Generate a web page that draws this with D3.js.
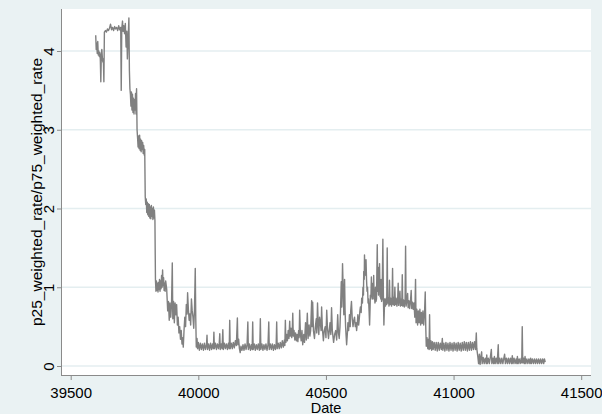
<!DOCTYPE html>
<html>
<head>
<meta charset="utf-8">
<script src="https://cdn.jsdelivr.net/npm/d3@7"></script>
<style>
  html, body { margin: 0; padding: 0; background: #eaf2f3; }
  svg { display: block; font-family: Arial, "Liberation Sans", sans-serif; }
</style>
</head>
<body>
<div id="chart"></div>
<script>
// tick values
const xTicks = [39500, 40000, 40500, 41000, 41500];
const yTicks = [0, 1, 2, 3, 4];

// [date, p25/p75 ratio], one array per regime
const obsHigh = [
  [39598,4.20],[39600,4.02],[39602,4.10],[39604,3.97],[39606,4.12],[39608,3.95],[39610,4.00],[39612,3.93],
  [39614,3.98],[39616,3.90],[39618,3.61],[39620,3.95],[39622,4.02],[39624,3.92],[39626,3.86],[39628,3.90],
  [39630,3.61],[39632,4.24],[39636,4.26],[39640,4.24],[39644,4.28],[39648,4.26],[39652,4.29],[39656,4.34],
  [39660,4.27],[39664,4.30],[39668,4.26],[39672,4.31],[39676,4.28],[39680,4.30],[39684,4.26],[39688,4.32],
  [39692,4.27],[39696,4.30],[39698,3.50],[39700,4.28],[39703,4.38],[39705,4.25],[39708,4.32],[39711,4.22],
  [39714,4.35],[39717,4.05],[39720,4.25],[39722,3.90],[39725,4.15],[39728,4.42],[39730,3.75],[39732,3.52],
  [39734,3.45],[39736,3.30],[39738,3.48],[39740,3.25],[39742,3.45],[39744,3.22],[39746,3.40],[39748,3.20],
  [39750,3.38],[39752,3.25],[39754,3.46],[39756,3.20],[39758,3.52],[39760,3.00],[39762,2.90],[39764,2.78],
  [39766,2.92],[39768,2.76],[39770,2.93],[39772,2.74],[39774,2.88],[39776,2.72],[39778,2.86],[39780,2.75],
  [39782,2.84],[39784,2.70],[39786,2.80],[39788,2.68],[39790,2.75],[39792,2.15],[39794,2.05],[39796,2.12],
  [39798,1.95],[39800,2.08],[39802,1.92],[39804,2.06],[39806,1.90],[39808,2.05],[39810,1.88],[39812,2.02],
  [39814,1.87],[39816,2.04],[39818,1.90],[39820,2.00],[39822,1.86],[39824,2.02],[39826,1.88],[39828,1.98],
  [39830,1.85]
];

const obsFall = [
  [39832,1.10],[39834,0.95],[39836,1.08],[39838,0.96],[39840,1.05],[39842,0.94],[39844,1.06],[39846,0.97],
  [39848,1.10],[39850,0.95],[39852,1.08],[39854,0.98],[39856,1.15],[39858,1.00],[39860,1.22],[39862,1.02],
  [39864,1.12],[39866,0.96],[39868,1.05],[39870,0.95],[39872,1.08],[39876,0.98],[39880,0.70],[39883,0.82],
  [39886,0.58],[39889,0.80],[39892,0.62],[39895,0.78],[39898,1.31],[39900,0.60],[39903,0.82],[39906,0.55],
  [39909,0.80],[39912,0.65],[39915,0.78],[39918,0.52],[39921,0.62],[39924,0.42],[39927,0.50],[39930,0.34],
  [39933,0.45],[39936,0.28],[39939,0.36],[39941,0.24],[39944,0.45],[39947,0.62],[39950,0.50],[39953,0.78],
  [39956,0.66],[39958,0.93],[39961,0.72],[39964,0.58],[39967,0.66],[39970,0.52],[39973,0.85],[39976,0.70],
  [39979,0.62],[39982,0.48],[39985,0.72],[39988,1.24],[39990,0.60],[39992,0.24]
];

const obsFlat = [
  [39995,0.35],[39997,0.22],[40000,0.30],[40004,0.20],[40008,0.29],[40012,0.21],[40016,0.28],[40020,0.20],
  [40024,0.29],[40028,0.21],[40032,0.27],[40034,0.39],[40036,0.21],[40040,0.28],[40044,0.20],[40048,0.29],
  [40052,0.21],[40056,0.28],[40059,0.22],[40061,0.43],[40063,0.22],[40067,0.29],[40071,0.21],[40075,0.28],
  [40079,0.22],[40082,0.29],[40084,0.41],[40086,0.21],[40090,0.28],[40093,0.22],[40096,0.46],[40098,0.21],
  [40102,0.29],[40106,0.22],[40110,0.28],[40114,0.21],[40118,0.29],[40121,0.22],[40123,0.58],[40125,0.22],
  [40129,0.29],[40133,0.22],[40137,0.30],[40141,0.23],[40145,0.32],[40149,0.26],[40153,0.61],[40155,0.27],
  [40158,0.34],[40161,0.22],[40164,0.17],[40167,0.25],[40171,0.20],[40175,0.27],[40179,0.20],[40183,0.28],
  [40187,0.21],[40191,0.27],[40194,0.56],[40196,0.21],[40200,0.28],[40204,0.20],[40208,0.27],[40211,0.21],
  [40213,0.56],[40215,0.21],[40219,0.28],[40223,0.20],[40227,0.27],[40231,0.21],[40235,0.28],[40239,0.20],
  [40241,0.27],[40243,0.60],[40245,0.21],[40249,0.28],[40253,0.20],[40257,0.27],[40261,0.21],[40265,0.28],
  [40269,0.20],[40273,0.27],[40276,0.56],[40278,0.21],[40282,0.28],[40286,0.21],[40290,0.28],[40294,0.20],
  [40298,0.27],[40302,0.21],[40305,0.28],[40307,0.56],[40309,0.22],[40313,0.29],[40317,0.22],[40321,0.30],
  [40325,0.23],[40329,0.32],[40333,0.24],[40337,0.33],[40339,0.26],[40341,0.58],[40343,0.30],[40346,0.40],
  [40349,0.32],[40352,0.45],[40355,0.35],[40358,0.57],[40360,0.38],[40363,0.48],[40366,0.36],[40368,0.44],
  [40370,0.67],[40372,0.38],[40375,0.45],[40378,0.33],[40381,0.42],[40384,0.32],[40387,0.40],[40390,0.31],
  [40393,0.45],[40395,0.36],[40397,0.71],[40400,0.40],[40403,0.32]
];

const obsVolatile = [
  [40406,0.45],[40409,0.27],[40413,0.40],[40416,0.30],[40420,0.55],[40423,0.33],[40427,0.67],[40430,0.35],
  [40434,0.52],[40437,0.38],[40440,0.45],[40444,0.83],[40446,0.50],[40448,0.81],[40451,0.45],[40455,0.35],
  [40458,0.48],[40462,0.60],[40464,0.42],[40467,0.80],[40470,0.50],[40472,0.40],[40475,0.62],[40478,0.55],
  [40481,0.45],[40483,0.75],[40486,0.48],[40490,0.32],[40493,0.44],[40497,0.50],[40500,0.36],[40503,0.71],
  [40506,0.48],[40510,0.35],[40513,0.45],[40516,0.55],[40519,0.40],[40522,0.74],[40525,0.45],[40530,0.30],
  [40534,0.40],[40538,0.45],[40542,0.33],[40546,0.65],[40549,0.42],[40552,0.35],[40555,0.50],[40557,0.70],
  [40560,1.07],[40562,0.75],[40565,1.30],[40568,0.90],[40570,0.65],[40573,1.10],[40575,0.70],[40577,0.50],
  [40579,0.38],[40581,0.27],[40584,0.42],[40586,0.55],[40589,0.45],[40592,0.65],[40595,0.50],[40597,0.70],
  [40600,0.82],[40603,0.60],[40606,0.50],[40609,0.58],[40612,0.62],[40615,0.50],[40618,0.55],[40620,0.45],
  [40623,0.55],[40625,0.65],[40628,0.52],[40630,0.58],[40633,0.70],[40635,0.75],[40638,0.68],[40640,0.86],
  [40643,0.80],[40645,1.00],[40647,0.90],[40648,1.20],[40650,1.10],[40651,1.41],[40653,1.18],[40654,1.25],
  [40656,1.15],[40657,1.35],[40659,1.10],[40661,0.95],[40663,1.00],[40665,0.80],[40667,0.85],[40669,0.70],
  [40671,0.52],[40673,0.75],[40674,0.90],[40676,0.85],[40678,1.13],[40680,0.88],[40681,0.95],[40683,0.85],
  [40684,1.05],[40686,0.90],[40687,1.15],[40689,0.85],[40690,0.90],[40692,0.80],[40694,1.00],[40696,0.82],
  [40698,0.85],[40701,1.54],[40703,0.95],[40704,1.10],[40706,0.90],[40707,1.25],[40709,1.00],[40710,1.30],
  [40712,0.88],[40713,0.95],[40715,0.85],[40716,1.10],[40718,0.82],[40720,0.85],[40723,1.61],[40725,0.90],
  [40727,0.52],[40730,0.85]
];

const obsPlateau = [
  [40733,0.76],[40736,0.86],[40738,0.78],[40740,1.50],[40742,0.80],[40745,0.86],[40747,0.76],[40749,1.09],
  [40751,0.78],[40754,0.86],[40757,0.76],[40759,0.85],[40761,1.24],[40763,0.78],[40766,0.87],[40768,0.77],
  [40770,1.00],[40772,0.78],[40775,0.86],[40778,0.76],[40781,0.85],[40783,1.05],[40785,0.77],[40788,0.86],
  [40790,0.95],[40792,0.76],[40795,0.85],[40797,0.77],[40799,1.16],[40801,0.76],[40804,0.84],[40807,0.75],
  [40810,0.84],[40812,1.52],[40814,0.76],[40817,0.83],[40820,0.92],[40822,0.74],[40825,0.83],[40828,0.73],
  [40831,0.82],[40834,0.96],[40836,0.73],[40839,0.81],[40842,0.72],[40845,0.80],[40848,0.62],[40851,1.10],
  [40853,0.55],[40856,0.72],[40859,0.52],[40862,0.70],[40865,0.55],[40868,0.72],[40871,0.52],[40874,0.68],
  [40877,0.54],[40880,0.70],[40883,0.52],[40886,0.66],[40889,0.94],[40891,0.50]
];

const obsLow = [
  [40893,0.25],[40896,0.36],[40899,0.22],[40902,0.34],[40904,0.21],[40906,0.65],[40908,0.22],[40911,0.32],
  [40914,0.20],[40917,0.31],[40920,0.21],[40924,0.30],[40928,0.20],[40932,0.30],[40936,0.19],[40940,0.30],
  [40944,0.20],[40948,0.29],[40952,0.21],[40956,0.35],[40958,0.20],[40962,0.29],[40966,0.19],[40970,0.30],
  [40974,0.20],[40978,0.29],[40982,0.19],[40986,0.30],[40990,0.20],[40994,0.29],[40998,0.19],[41002,0.30],
  [41006,0.20],[41010,0.29],[41014,0.19],[41018,0.30],[41022,0.20],[41026,0.29],[41030,0.19],[41034,0.30],
  [41038,0.20],[41042,0.31],[41046,0.20],[41050,0.30],[41054,0.19],[41058,0.30],[41062,0.20],[41066,0.31],
  [41070,0.20],[41074,0.30],[41078,0.21],[41082,0.31],[41086,0.21],[41089,0.42],[41091,0.22]
];

const obsFloor = [
  [41095,0.12],[41098,0.03],[41101,0.15],[41104,0.02],[41107,0.12],[41110,0.18],[41112,0.03],[41116,0.11],
  [41120,0.03],[41124,0.10],[41128,0.03],[41130,0.14],[41132,0.03],[41136,0.10],[41140,0.03],[41144,0.11],
  [41148,0.21],[41150,0.03],[41154,0.10],[41157,0.03],[41160,0.12],[41163,0.03],[41167,0.10],[41171,0.03],
  [41175,0.27],[41177,0.03],[41181,0.10],[41185,0.03],[41189,0.10],[41193,0.03],[41197,0.10],[41200,0.15],
  [41203,0.03],[41207,0.10],[41211,0.03],[41215,0.10],[41219,0.03],[41223,0.10],[41227,0.03],[41230,0.13],
  [41233,0.03],[41237,0.10],[41241,0.03],[41245,0.09],[41248,0.03],[41250,0.12],[41253,0.03],[41257,0.09],
  [41261,0.03],[41265,0.10],[41267,0.04],[41269,0.50],[41271,0.04],[41274,0.10],[41277,0.03],[41280,0.12],
  [41283,0.03],[41287,0.09],[41291,0.03],[41295,0.09],[41299,0.03],[41302,0.10],[41305,0.03],[41309,0.09],
  [41313,0.03],[41317,0.09],[41321,0.03],[41325,0.09],[41329,0.03],[41333,0.09],[41337,0.03],[41341,0.09],
  [41345,0.03],[41349,0.09],[41353,0.03],[41356,0.09],[41359,0.05]
];

const series = [].concat(obsHigh, obsFall, obsFlat, obsVolatile, obsPlateau, obsLow, obsFloor);

const W = 602, H = 414;
const plot = { left: 61, right: 591, top: 9, bottom: 375 };

const svg = d3.select("#chart").append("svg")
  .attr("width", W)
  .attr("height", H);

svg.append("rect")
  .attr("width", W).attr("height", H)
  .attr("fill", "#eaf2f3");

// plot region
svg.append("rect")
  .attr("x", plot.left).attr("y", plot.top)
  .attr("width", plot.right - plot.left)
  .attr("height", plot.bottom - plot.top)
  .attr("fill", "#ffffff");

const x = d3.scaleLinear().domain([39500, 41500]).range([70.7, 581.2]);
const y = d3.scaleLinear().domain([0, 4]).range([366, 51]);

// gridlines
svg.append("g")
  .selectAll("line")
  .data(yTicks)
  .enter()
  .append("line")
  .attr("x1", plot.left).attr("x2", plot.right)
  .attr("y1", d => y(d)).attr("y2", d => y(d))
  .attr("stroke", "#e4eef0")
  .attr("stroke-width", 1.4);

// y axis
const yAxis = svg.append("g")
  .attr("transform", "translate(" + plot.left + ",0)")
  .call(d3.axisLeft(y).tickValues(yTicks).tickSize(4).tickSizeOuter(0).tickFormat(d3.format("d")));
yAxis.select(".domain")
  .attr("d", "M0.5," + plot.top + "V" + plot.bottom);
yAxis.selectAll("line").attr("stroke", "#8a8a8a");
yAxis.select(".domain").attr("stroke", "#8a8a8a");
yAxis.selectAll("text")
  .attr("x", null).attr("dy", null)
  .attr("transform", "translate(-7.5,0) rotate(-90)")
  .attr("text-anchor", "middle")
  .style("font-size", "15px")
  .style("font-family", "Arial, 'Liberation Sans', sans-serif")
  .attr("fill", "#000");

// x axis
const xAxis = svg.append("g")
  .attr("transform", "translate(0," + plot.bottom + ")")
  .call(d3.axisBottom(x).tickValues(xTicks).tickSize(5).tickSizeOuter(0).tickFormat(d3.format("d")));
xAxis.select(".domain")
  .attr("d", "M" + plot.left + ",0.5H" + plot.right);
xAxis.selectAll("line").attr("stroke", "#8a8a8a");
xAxis.select(".domain").attr("stroke", "#8a8a8a");
xAxis.selectAll("text")
  .attr("y", 22.5).attr("dy", null)
  .style("font-size", "15px")
  .style("font-family", "Arial, 'Liberation Sans', sans-serif")
  .attr("fill", "#000");

// axis titles
svg.append("text")
  .attr("x", (plot.left + plot.right) / 2)
  .attr("y", 412.5)
  .attr("text-anchor", "middle")
  .style("font-size", "14.5px")
  .text("Date");

svg.append("text")
  .attr("transform", "translate(41.5," + (plot.top + plot.bottom) / 2 + ") rotate(-90)")
  .attr("text-anchor", "middle")
  .style("font-size", "15.5px")
  .text("p25_weighted_rate/p75_weighted_rate");

// the series
const line = d3.line()
  .x(d => x(d[0]))
  .y(d => y(d[1]));

svg.append("path")
  .datum(series)
  .attr("d", line)
  .attr("fill", "none")
  .attr("stroke", "#808080")
  .attr("stroke-width", 1.4)
  .attr("stroke-linejoin", "round");
</script>
</body>
</html>
